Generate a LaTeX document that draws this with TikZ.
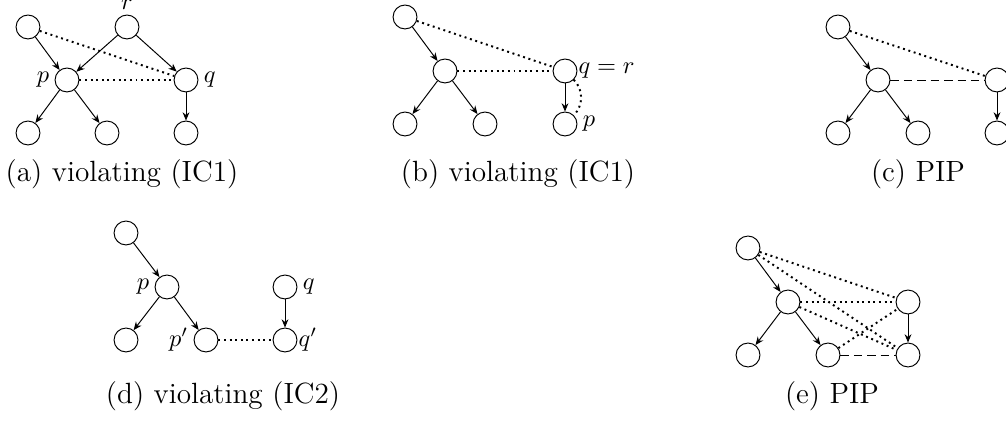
\documentclass[tikz,border=0pt]{standalone}
\usetikzlibrary{arrows.meta}
\begin{document}
\begin{tikzpicture}[x=0.41pt,y=-0.41pt,
  vtx/.style={circle,draw,minimum size=9.8pt,inner sep=0pt},
  arr/.style={-{Stealth[length=3.4pt,width=2.8pt]}},
  dots/.style={line width=0.8pt,dash pattern=on 0.8pt off 1.5pt},
  dsh/.style={dash pattern=on 3.5pt off 2pt},
  lbl/.style={inner sep=2pt},
  lbltight/.style={inner sep=0.3pt},
  captxt/.style={anchor=base,inner sep=0pt,font=\fontsize{12}{14}\selectfont}
]
\useasboundingbox (0,0) rectangle (1006,423);

% ---------- (a)
\node[vtx] (a1) at (28,27) {};
\node[vtx,label={[lbl]above:$r$}] (ar) at (127,27) {};
\node[vtx,label={[lbl]left:$p$}] (ap) at (67,80) {};
\node[vtx,label={[lbl]right:$q$}] (aq) at (186,80) {};
\node[vtx] (ab1) at (28,133) {};
\node[vtx] (ab2) at (107,133) {};
\node[vtx] (ab3) at (186,133) {};
\draw[arr] (a1) -- (ap);
\draw[arr] (ar) -- (ap);
\draw[arr] (ar) -- (aq);
\draw[arr] (ap) -- (ab1);
\draw[arr] (ap) -- (ab2);
\draw[arr] (aq) -- (ab3);
\draw[dots] (a1) -- (aq);
\draw[dots] (ap) -- (aq);
\node[captxt] (capa) at (122,182) {(a) violating (IC1)};

% ---------- (b)
\node[vtx] (b1) at (405,17) {};
\node[vtx] (b2) at (445,71) {};
\node[vtx,label={[lbltight]right:$q=r$}] (bq) at (565,71) {};
\node[vtx] (bb1) at (405,124) {};
\node[vtx] (bb2) at (485,124) {};
\node[vtx,label={[lbl]right:$p$}] (bp) at (565,124) {};
\draw[arr] (b1) -- (b2);
\draw[arr] (b2) -- (bb1);
\draw[arr] (b2) -- (bb2);
\draw[arr] (bq) -- (bp);
\draw[dots] (b1) -- (bq);
\draw[dots] (b2) -- (bq);
\draw[dots] (bq) to[out=-45,in=45] (bp);
\node[captxt] (capb) at (518,182) {(b) violating (IC1)};

% ---------- (c)
\node[vtx] (c1) at (838,27) {};
\node[vtx] (c2) at (878,80) {};
\node[vtx] (cq) at (997,80) {};
\node[vtx] (cb1) at (838,133) {};
\node[vtx] (cb2) at (918,133) {};
\node[vtx] (cb3) at (997,133) {};
\draw[arr] (c1) -- (c2);
\draw[arr] (c2) -- (cb1);
\draw[arr] (c2) -- (cb2);
\draw[arr] (cq) -- (cb3);
\draw[dots] (c1) -- (cq);
\draw[dsh] (c2) -- (cq);
\node[captxt] (capc) at (918,182) {(c) PIP};

% ---------- (d)
\node[vtx] (d1) at (126,233) {};
\node[vtx,label={[lbl]left:$p$}] (dp) at (167,287) {};
\node[vtx,label={[lbl]right:$q$}] (dq) at (285,287) {};
\node[vtx] (db1) at (126,340) {};
\node[vtx,label={[lbl]left:$p'$}] (dp2) at (206,340) {};
\node[vtx,label={[lbltight]right:$q'$}] (dq2) at (285,340) {};
\draw[arr] (d1) -- (dp);
\draw[arr] (dp) -- (db1);
\draw[arr] (dp) -- (dp2);
\draw[arr] (dq) -- (dq2);
\draw[dots] (dp2) -- (dq2);
\node[captxt] (capd) at (223,404) {(d) violating (IC2)};

% ---------- (e)
\node[vtx] (e1) at (748,248) {};
\node[vtx] (e2) at (788,302) {};
\node[vtx] (eq) at (908,302) {};
\node[vtx] (eb1) at (748,355) {};
\node[vtx] (eb2) at (828,355) {};
\node[vtx] (eb3) at (908,355) {};
\draw[arr] (e1) -- (e2);
\draw[arr] (e2) -- (eb1);
\draw[arr] (e2) -- (eb2);
\draw[arr] (eq) -- (eb3);
\draw[dots] (e1) -- (eq);
\draw[dots] (e1) -- (eb3);
\draw[dots] (e2) -- (eq);
\draw[dots] (e2) -- (eb3);
\draw[dots] (eb2) -- (eq);
\draw[dsh] (eb2) -- (eb3);
\node[captxt] (cape) at (832,404) {(e) PIP};
\end{tikzpicture}
\end{document}
